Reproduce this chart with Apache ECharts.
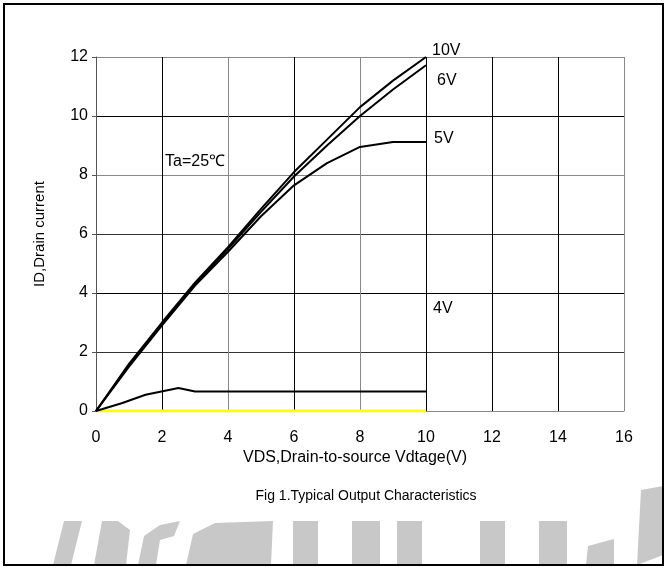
<!DOCTYPE html>
<html><head><meta charset="utf-8">
<script src="https://cdn.jsdelivr.net/npm/echarts@6/dist/echarts.min.js"></script>
<style>html,body{margin:0;padding:0;background:#fff}#c{width:667px;height:570px}</style>
</head><body><div id="c"></div>
<script>
var xTicks = [0, 2, 4, 6, 8, 10, 12, 14, 16];
var yTicks = [0, 2, 4, 6, 8, 10, 12];
var vgs10 = [[0,0],[1,1.6],[2,3.0],[3,4.35],[4,5.55],[5,6.85],[6,8.1],[7,9.2],[8,10.3],[9,11.2],[10,12]];
var vgs6  = [[0,0],[1,1.55],[2,2.95],[3,4.3],[4,5.5],[5,6.75],[6,7.95],[7,9.0],[8,10.0],[9,10.9],[10,11.72]];
var vgs5  = [[0,0],[1,1.5],[2,2.9],[3,4.25],[4,5.4],[5,6.6],[6,7.65],[7,8.4],[8,8.95],[9,9.12],[10,9.12]];
var vgs4  = [[0,0],[0.8,0.27],[1.5,0.55],[2.5,0.78],[3,0.66],[10,0.66]];
var vgs0  = [[0,0],[10,0]];
var curveLabels = ['10V', '6V', '5V', '4V'];
var xName = 'VDS,Drain-to-source Vdtage(V)';
var yName = 'ID,Drain current';
var caption = 'Fig 1.Typical Output Characteristics';
var tempNote = 'Ta=25℃';

var fam = "'Liberation Sans',Arial,sans-serif";
var chart = echarts.init(document.getElementById('c'), null, {renderer:'canvas'});
function line(d, color, w, z){
  return {type:'line', data:d, symbol:'none', showSymbol:false, animation:false, z:z||3,
    lineStyle:{color:color, width:w}};
}
var wm = '#c8c8c8';
function poly(pts){ return {type:'polygon', shape:{points:pts}, style:{fill:wm}, z:1}; }
chart.setOption({
  animation:false,
  backgroundColor:'#fff',
  grid:{left:96, right:43, top:57, bottom:159},
  xAxis:{type:'value', min:0, max:16, interval:2,
    axisLine:{show:true, lineStyle:{color:'#888', width:1}},
    axisTick:{show:false},
    axisLabel:{color:'#000', fontSize:16, fontFamily:fam, margin:19},
    splitLine:{show:true, showMinLine:false, lineStyle:{width:1, color:['#000','#888','#000','#888','#000','#000','#000','#888']}}
  },
  yAxis:{type:'value', min:0, max:12, interval:2,
    axisLine:{show:true, lineStyle:{color:'#555', width:1}},
    axisTick:{show:true, length:4, lineStyle:{color:'#555'}},
    axisLabel:{color:'#000', fontSize:16, fontFamily:fam, margin:8},
    splitLine:{show:true, showMinLine:false, lineStyle:{width:1, color:['#333','#000','#333','#888','#000','#888']}}
  },
  series:[
    line(vgs0, '#ffff00', 3, 2),
    line(vgs4, '#000', 2),
    line(vgs5, '#000', 2),
    line(vgs6, '#000', 2),
    line(vgs10, '#000', 2)
  ],
  graphic:[
    poly([[53,565],[64,521],[82,521],[71,565]]),
    poly([[94,565],[102,521],[118,521],[130,530],[126,565]]),
    poly([[138,565],[144,536],[160,525],[180,521],[174,536],[160,540],[156,565]]),
    poly([[186,565],[193,534],[215,523],[273,521],[271,565]]),
    {type:'rect', shape:{x:293,y:521,width:25,height:44}, style:{fill:wm}, z:1},
    {type:'rect', shape:{x:352,y:521,width:28,height:44}, style:{fill:wm}, z:1},
    {type:'rect', shape:{x:397,y:521,width:25,height:44}, style:{fill:wm}, z:1},
    {type:'rect', shape:{x:480,y:521,width:25,height:44}, style:{fill:wm}, z:1},
    {type:'rect', shape:{x:539,y:521,width:28,height:44}, style:{fill:wm}, z:1},
    poly([[586,565],[588,546],[614,539],[614,565]]),
    poly([[637,565],[641,490],[663,486],[663,555]]),
    {type:'rect', shape:{x:4,y:4,width:659,height:561}, style:{fill:null, stroke:'#000', lineWidth:2}, z:10},
    {type:'text', x:432, y:43, style:{text:curveLabels[0], font:"16px "+fam, fill:'#000'}, z:5},
    {type:'text', x:437, y:73, style:{text:curveLabels[1], font:"16px "+fam, fill:'#000'}, z:5},
    {type:'text', x:434, y:131, style:{text:curveLabels[2], font:"16px "+fam, fill:'#000'}, z:5},
    {type:'text', x:433, y:301, style:{text:curveLabels[3], font:"16px "+fam, fill:'#000'}, z:5},
    {type:'text', x:163, y:153, style:{text:tempNote, font:"16px "+fam, fill:'#000', backgroundColor:'#fff', padding:[1,2,1,2]}, z:5},
    {type:'text', x:355, y:450, style:{text:xName, font:"16px "+fam, fill:'#000', align:'center'}, z:5},
    {type:'text', x:366, y:489, style:{text:caption, font:"14px "+fam, fill:'#000', align:'center'}, z:5},
    {type:'text', x:40, y:234, rotation:Math.PI/2, style:{text:yName, font:"15px "+fam, fill:'#000', align:'center', verticalAlign:'middle'}, z:5}
  ]
});
</script></body></html>
